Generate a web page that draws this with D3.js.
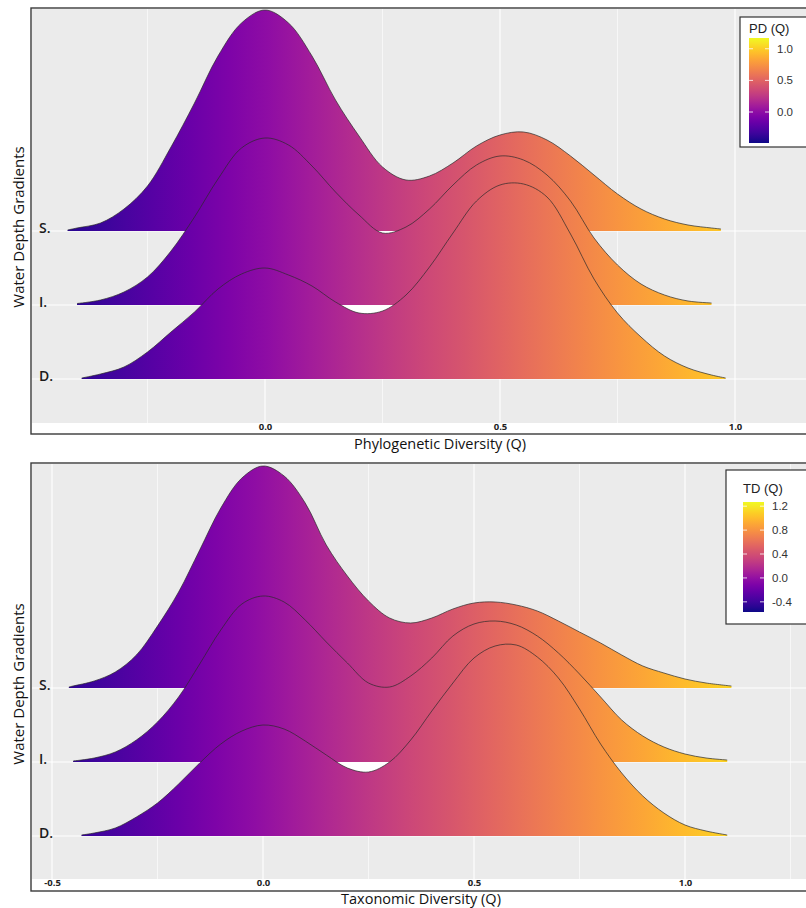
<!DOCTYPE html>
<html>
<head>
<meta charset="utf-8">
<script src="https://cdn.jsdelivr.net/npm/d3@7"></script>
<style>
  body { margin: 0; background: #fff; }
  svg { display: block; }
</style>
</head>
<body>
<script>
// ridge categories, top to bottom
const depthLevels = ["S.", "I.", "D."];

// Phylogenetic diversity densities [x, density]
const pdShallow = [[-0.42,0.01],[-0.40,0.03],[-0.35,0.08],[-0.30,0.22],[-0.25,0.45],[-0.20,0.84],[-0.15,1.28],[-0.10,1.75],[-0.05,2.08],[0,2.21],[0.05,2.08],[0.10,1.75],[0.15,1.31],[0.20,0.95],[0.25,0.64],[0.30,0.51],[0.35,0.55],[0.40,0.68],[0.45,0.85],[0.50,0.96],[0.55,0.99],[0.60,0.91],[0.65,0.75],[0.70,0.56],[0.75,0.37],[0.80,0.22],[0.85,0.12],[0.90,0.06],[0.95,0.03],[0.97,0.02]];
const pdInter = [[-0.40,0.015],[-0.35,0.05],[-0.30,0.13],[-0.25,0.28],[-0.20,0.54],[-0.15,0.88],[-0.10,1.26],[-0.05,1.57],[0,1.67],[0.05,1.60],[0.10,1.39],[0.15,1.13],[0.20,0.90],[0.25,0.72],[0.30,0.78],[0.35,0.96],[0.40,1.20],[0.45,1.40],[0.50,1.49],[0.55,1.45],[0.60,1.30],[0.65,1.04],[0.70,0.67],[0.75,0.40],[0.80,0.21],[0.85,0.10],[0.90,0.04],[0.95,0.02]];
const pdDeep = [[-0.39,0.01],[-0.35,0.05],[-0.30,0.12],[-0.25,0.27],[-0.20,0.47],[-0.15,0.67],[-0.10,0.90],[-0.05,1.05],[0,1.11],[0.05,1.04],[0.10,0.93],[0.15,0.77],[0.20,0.66],[0.25,0.68],[0.30,0.84],[0.35,1.12],[0.40,1.46],[0.45,1.78],[0.50,1.94],[0.55,1.95],[0.60,1.82],[0.65,1.45],[0.70,1.00],[0.75,0.66],[0.80,0.42],[0.85,0.23],[0.90,0.11],[0.95,0.04],[0.98,0.01]];

// Taxonomic diversity densities
const tdShallow = [[-0.46,0.01],[-0.45,0.02],[-0.40,0.07],[-0.35,0.16],[-0.30,0.33],[-0.25,0.62],[-0.20,0.96],[-0.15,1.38],[-0.10,1.80],[-0.05,2.10],[0,2.22],[0.05,2.12],[0.10,1.85],[0.15,1.43],[0.20,1.12],[0.25,0.87],[0.30,0.70],[0.35,0.65],[0.40,0.70],[0.45,0.79],[0.50,0.85],[0.55,0.86],[0.60,0.83],[0.65,0.77],[0.70,0.67],[0.75,0.56],[0.80,0.45],[0.85,0.33],[0.90,0.22],[0.95,0.15],[1.00,0.09],[1.05,0.05],[1.11,0.02]];
const tdInter = [[-0.45,0.01],[-0.40,0.04],[-0.35,0.10],[-0.30,0.22],[-0.25,0.40],[-0.20,0.65],[-0.15,0.98],[-0.10,1.32],[-0.05,1.58],[0,1.66],[0.05,1.60],[0.10,1.42],[0.15,1.20],[0.20,0.99],[0.25,0.79],[0.30,0.75],[0.35,0.86],[0.40,1.04],[0.45,1.26],[0.50,1.38],[0.55,1.41],[0.60,1.37],[0.65,1.26],[0.70,1.09],[0.75,0.88],[0.80,0.65],[0.85,0.42],[0.90,0.26],[0.95,0.15],[1.00,0.08],[1.05,0.04],[1.10,0.02]];
const tdDeep = [[-0.43,0.01],[-0.40,0.03],[-0.35,0.08],[-0.30,0.19],[-0.25,0.33],[-0.20,0.52],[-0.15,0.73],[-0.10,0.92],[-0.05,1.05],[0,1.11],[0.05,1.07],[0.10,0.95],[0.15,0.81],[0.20,0.68],[0.25,0.64],[0.30,0.74],[0.35,0.96],[0.40,1.25],[0.45,1.53],[0.50,1.78],[0.55,1.90],[0.60,1.91],[0.65,1.79],[0.70,1.58],[0.75,1.27],[0.80,0.92],[0.85,0.63],[0.90,0.40],[0.95,0.23],[1.00,0.11],[1.05,0.05],[1.10,0.01]];

// axis ticks and colour scale limits
const pdTicks = [0, 0.5, 1.0];
const pdMinor = [-0.25, 0.25, 0.75];
const tdTicks = [-0.5, 0, 0.5, 1.0];
const tdMinor = [-0.25, 0.25, 0.75, 1.25];
const pdLegendTicks = [0.0, 0.5, 1.0];
const tdLegendTicks = [-0.4, 0.0, 0.4, 0.8, 1.2];
const pdColorRange = [-0.49, 1.17];
const tdColorRange = [-0.57, 1.27];

const W = 806, H = 908;
const svg = d3.select("body").append("svg").attr("width", W).attr("height", H);
const defs = svg.append("defs");
const axisFont = "'Open Sans', 'DejaVu Sans', sans-serif";
const legendFont = "'Liberation Sans', Arial, sans-serif";
// ggplot prints a plain hyphen for negatives
const fmt = v => d3.format(".1f")(v).replace("\u2212", "-");

function drawPanel(p) {
  const g = svg.append("g");
  const x = d3.scaleLinear().domain([0, 1]).range(p.xRange);
  const yBase = d3.scalePoint().domain(depthLevels).range(p.baseRange);
  const h = d3.scaleLinear().domain([0, 1]).range([0, 100]);

  // frame, grey panel, white strip for tick labels
  g.append("rect")
    .attr("x", 31).attr("y", p.boxTop)
    .attr("width", 800).attr("height", p.boxBottom - p.boxTop)
    .attr("fill", "#fff").attr("stroke", "#3a3a3a").attr("stroke-width", 1.4);
  g.append("rect")
    .attr("x", 32).attr("y", p.boxTop + 1)
    .attr("width", 790).attr("height", p.panelBottom - p.boxTop - 1)
    .attr("fill", "#ebebeb");

  defs.append("clipPath").attr("id", "clip-" + p.id)
    .append("rect").attr("x", 32).attr("y", p.boxTop + 1)
    .attr("width", 790).attr("height", p.panelBottom - p.boxTop - 1);
  const plot = g.append("g").attr("clip-path", `url(#clip-${p.id})`);

  // grid lines
  plot.selectAll(".minor").data(p.minor).join("line")
    .attr("x1", d => x(d)).attr("x2", d => x(d))
    .attr("y1", p.boxTop).attr("y2", p.panelBottom)
    .attr("stroke", "#fff").attr("stroke-width", 0.6);
  plot.selectAll(".major").data(p.ticks).join("line")
    .attr("x1", d => x(d)).attr("x2", d => x(d))
    .attr("y1", p.boxTop).attr("y2", p.panelBottom)
    .attr("stroke", "#fff").attr("stroke-width", 1.1);
  plot.selectAll(".hgrid").data(depthLevels).join("line")
    .attr("x1", 32).attr("x2", 822)
    .attr("y1", d => yBase(d)).attr("y2", d => yBase(d))
    .attr("stroke", "#fff").attr("stroke-width", 1.1);

  // x-mapped plasma gradient shared by every ridge
  const gradId = "grad-" + p.id;
  const grad = defs.append("linearGradient").attr("id", gradId)
    .attr("gradientUnits", "userSpaceOnUse")
    .attr("x1", x(p.colorRange[0])).attr("x2", x(p.colorRange[1]))
    .attr("y1", 0).attr("y2", 0);
  d3.range(0, 1.0001, 0.05).forEach(t => {
    grad.append("stop").attr("offset", t).attr("stop-color", d3.interpolatePlasma(t));
  });

  p.ridges.forEach((data, i) => {
    const base = yBase(depthLevels[i]);
    // dip of this ridge that sinks below the ridge behind it shows white
    if (i > 0) {
      const prevBase = yBase(depthLevels[i - 1]);
      const peaks = [];
      data.forEach((d, j) => {
        if (j > 0 && j < data.length - 1 && d[1] > data[j - 1][1] && d[1] >= data[j + 1][1]) peaks.push(j);
      });
      if (peaks.length > 1) {
        const a = peaks[0], b = peaks[peaks.length - 1];
        const low = d3.min(data.slice(a, b + 1), d => d[1]);
        const bottom = base - h(low);
        if (bottom > prevBase) {
          plot.append("rect")
            .attr("x", x(data[a][0])).attr("width", x(data[b][0]) - x(data[a][0]))
            .attr("y", prevBase).attr("height", bottom - prevBase + 3)
            .attr("fill", "#fff");
        }
      }
    }
    const area = d3.area()
      .x(d => x(d[0])).y0(base).y1(d => base - h(d[1]))
      .curve(d3.curveCatmullRom.alpha(0.5));
    const line = d3.line()
      .x(d => x(d[0])).y(d => base - h(d[1]))
      .curve(d3.curveCatmullRom.alpha(0.5));
    plot.append("path").attr("d", area(data)).attr("fill", `url(#${gradId})`);
    plot.append("path").attr("d", line(data))
      .attr("fill", "none").attr("stroke", "#2a2a2a").attr("stroke-width", 0.7);
  });

  // ridge labels
  g.selectAll(".rlab").data(depthLevels).join("text")
    .attr("x", 39).attr("y", d => yBase(d) + 2)
    .attr("font-family", axisFont).attr("font-size", 14).attr("font-weight", 600)
    .attr("fill", "#1a1a1a")
    .text(d => d);

  // x axis tick labels
  const xAxis = d3.axisBottom(x).tickValues(p.ticks).tickFormat(fmt).tickSize(0);
  const ax = g.append("g").attr("transform", `translate(0,${p.panelBottom})`).call(xAxis);
  ax.select(".domain").remove();
  ax.selectAll("text")
    .attr("font-family", axisFont).attr("font-size", 9.5).attr("font-weight", 700)
    .attr("fill", "#222").attr("y", 0);

  // titles
  g.append("text")
    .attr("x", p.xTitleX).attr("y", p.xTitleY)
    .attr("text-anchor", "middle")
    .attr("font-family", axisFont).attr("font-size", 14.5).attr("fill", "#111")
    .text(p.xTitle);
  g.append("text")
    .attr("transform", `translate(24,${p.yTitleY}) rotate(-90)`)
    .attr("text-anchor", "middle")
    .attr("font-family", axisFont).attr("font-size", 15).attr("fill", "#111")
    .text("Water Depth Gradients");

  // colour bar legend
  const L = p.legend;
  g.append("rect")
    .attr("x", L.boxX).attr("y", L.boxTop)
    .attr("width", 830 - L.boxX).attr("height", L.boxBottom - L.boxTop)
    .attr("fill", "#fff").attr("stroke", "#333").attr("stroke-width", 1.2);
  g.append("text")
    .attr("x", L.barX).attr("y", L.titleY)
    .attr("font-family", legendFont).attr("font-size", 13).attr("fill", "#222")
    .text(L.title);
  const lScale = d3.scaleLinear().domain(p.colorRange).range([L.barBottom, L.barTop]);
  const vgrad = defs.append("linearGradient").attr("id", "vgrad-" + p.id)
    .attr("x1", 0).attr("x2", 0).attr("y1", 1).attr("y2", 0);
  d3.range(0, 1.0001, 0.05).forEach(t => {
    vgrad.append("stop").attr("offset", t).attr("stop-color", d3.interpolatePlasma(t));
  });
  g.append("rect")
    .attr("x", L.barX).attr("y", L.barTop)
    .attr("width", L.barW).attr("height", L.barBottom - L.barTop)
    .attr("fill", `url(#vgrad-${p.id})`);
  L.ticks.forEach(v => {
    const yy = lScale(v);
    g.append("line").attr("x1", L.barX).attr("x2", L.barX + 4).attr("y1", yy).attr("y2", yy)
      .attr("stroke", "#fff").attr("stroke-opacity", 0.8);
    g.append("line").attr("x1", L.barX + L.barW - 4).attr("x2", L.barX + L.barW).attr("y1", yy).attr("y2", yy)
      .attr("stroke", "#fff").attr("stroke-opacity", 0.8);
    g.append("text")
      .attr("x", L.barX + L.barW + 8).attr("y", yy).attr("dy", "0.35em")
      .attr("font-family", legendFont).attr("font-size", 11.5).attr("fill", "#333")
      .text(fmt(v));
  });
}

drawPanel({
  id: "pd",
  boxTop: 8, boxBottom: 434, panelBottom: 423,
  xRange: [265, 735], baseRange: [231, 379],
  ticks: pdTicks, minor: pdMinor, colorRange: pdColorRange,
  ridges: [pdShallow, pdInter, pdDeep],
  xTitle: "Phylogenetic Diversity (Q)", xTitleX: 440, xTitleY: 449, yTitleY: 227,
  legend: { title: "PD (Q)", boxX: 740, boxTop: 17, boxBottom: 147, titleY: 33,
            barX: 749, barW: 20, barTop: 38, barBottom: 143, ticks: pdLegendTicks }
});

drawPanel({
  id: "td",
  boxTop: 463, boxBottom: 891, panelBottom: 879,
  xRange: [263, 685], baseRange: [688, 836],
  ticks: tdTicks, minor: tdMinor, colorRange: tdColorRange,
  ridges: [tdShallow, tdInter, tdDeep],
  xTitle: "Taxonomic Diversity (Q)", xTitleX: 421, xTitleY: 904, yTitleY: 684,
  legend: { title: "TD (Q)", boxX: 726, boxTop: 470, boxBottom: 624, titleY: 493,
            barX: 743, barW: 21, barTop: 502, barBottom: 612, ticks: tdLegendTicks }
});
</script>
</body>
</html>
